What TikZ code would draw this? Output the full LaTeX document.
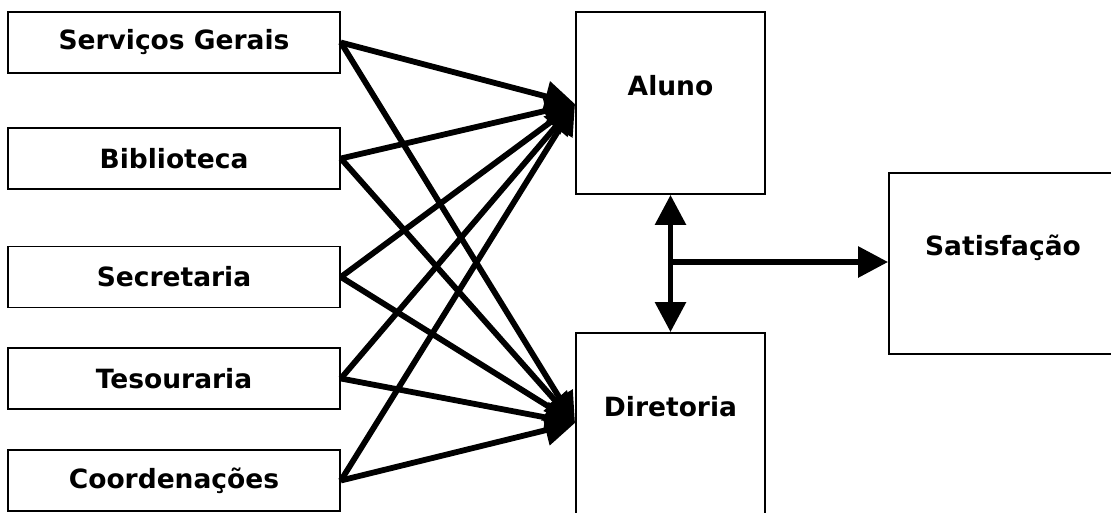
\documentclass[tikz,border=0pt]{standalone}
\usepackage{fontspec}
\setmainfont{DejaVu Sans}
\usetikzlibrary{arrows.meta}
\begin{document}
\begin{tikzpicture}[x=1pt,y=-1pt,
  box/.style={draw=black, line width=1.8pt, fill=white, inner sep=0pt},
  leftbox/.style={box, minimum width=332pt, minimum height=61pt, font=\fontsize{26.5}{30}\selectfont\bfseries},
  lbl/.style={font=\fontsize{26.5}{30}\selectfont\bfseries, inner sep=0pt},
  conn/.style={line width=5.8pt, -{Triangle[length=30pt,width=30pt]}},
  dconn/.style={line width=5.8pt, {Triangle[length=30pt,width=30pt]}-{Triangle[length=30pt,width=30pt]}}
]
\useasboundingbox (0,0) rectangle (1111,512);
\clip (0,0) rectangle (1111,512);
\node[leftbox] (sg) at (174,42.5) {Serviços Gerais};
\node[leftbox] (bi) at (174,158.5) {Biblioteca};
\node[leftbox] (se) at (174,277) {Secretaria};
\node[leftbox] (te) at (174,378.5) {Tesouraria};
\node[leftbox] (co) at (174,480.5) {Coordenações};
\node[box, minimum width=189pt, minimum height=182pt, label={[lbl,yshift=17pt]center:Aluno}] (al) at (670.5,103) {};
\node[box, minimum width=189pt, minimum height=190pt, label={[lbl,yshift=21pt]center:Diretoria}] (di) at (670.5,428) {};
\node[box, minimum width=228pt, minimum height=181pt, label={[lbl,yshift=15.5pt]center:Satisfação}] (sa) at (1003,263.5) {};
\coordinate (at) at (575,104);
\coordinate (dt) at (575,423);
\coordinate (jn) at (670.5,262);
\foreach \n in {sg,bi,se,te,co}{
  \draw[conn] (\n.east) -- (at);
  \draw[conn] (\n.east) -- (dt);
}
\draw[dconn] (al.south) -- (di.north);
\draw[conn] (jn) -- (jn -| sa.west);
\end{tikzpicture}
\end{document}
